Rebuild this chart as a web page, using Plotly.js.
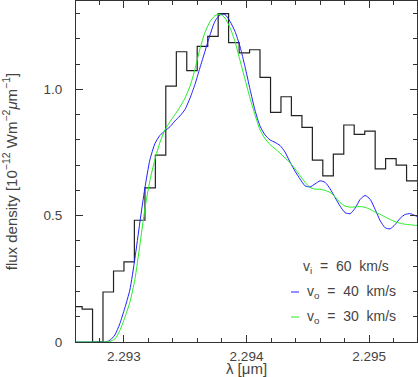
<!DOCTYPE html>
<html>
<head>
<meta charset="utf-8">
<script src="https://cdn.plot.ly/plotly-3.0.1.min.js"></script>
<style>
  html, body { margin: 0; padding: 0; background: #fff; }
  #plot { width: 418px; height: 377px; }
</style>
</head>
<body>
<div id="plot"></div>
<script>
// observed spectrum, binned (bin edges in micron, flux per bin)
var binEdges = [2.29258, 2.29266, 2.292745, 2.29283, 2.292916, 2.293001, 2.293086, 2.293172,
  2.293257, 2.293342, 2.293428, 2.293513, 2.293598, 2.293684, 2.293769, 2.293854, 2.29394,
  2.294025, 2.29411, 2.294196, 2.294281, 2.294366, 2.294452, 2.294537, 2.294622, 2.294708,
  2.294793, 2.294878, 2.294964, 2.295049, 2.295134, 2.29522, 2.295305, 2.29539];
var binFlux = [0.14, 0.13, 0, 0.198, 0.281, 0.317, 0.482, 0.61, 0.74, 1.013, 1.149, 1.074,
  1.17, 1.21, 1.30, 1.185, 1.145, 1.157, 1.048, 0.909, 0.971, 0.896, 0.85, 0.72, 0.658,
  0.744, 0.859, 0.822, 0.835, 0.685, 0.726, 0.70, 0.638];

// model profiles
var modelWave = [2.292608, 2.292804, 2.292845, 2.292886, 2.292927, 2.292967, 2.293008, 2.293049,
  2.29309, 2.293131, 2.293171, 2.293212, 2.293253, 2.293294, 2.293335, 2.293376, 2.293416,
  2.293457, 2.293498, 2.293539, 2.29358, 2.29362, 2.293661, 2.293702, 2.293743, 2.293784,
  2.293824, 2.293865, 2.293906, 2.293947, 2.293988, 2.294029, 2.294069, 2.29411, 2.294151,
  2.294192, 2.294233, 2.294273, 2.294314, 2.294355, 2.294396, 2.294437, 2.294478, 2.294518,
  2.294559, 2.2946, 2.294641, 2.294682, 2.294722, 2.294763, 2.294804, 2.294845, 2.294886,
  2.294927, 2.294967, 2.295008, 2.295049, 2.29509, 2.295131, 2.295171, 2.295212, 2.295253,
  2.295294, 2.295335, 2.295376, 2.295416];
var fluxVo40 = [0, 0, 0, 0.006, 0.028, 0.072, 0.135, 0.206, 0.33, 0.475, 0.608, 0.72, 0.785,
  0.818, 0.836, 0.852, 0.875, 0.895, 0.92, 0.965, 1.02, 1.085, 1.15, 1.215, 1.27, 1.295,
  1.297, 1.27, 1.23, 1.17, 1.09, 1.0, 0.918, 0.855, 0.82, 0.8, 0.79, 0.778, 0.752, 0.712,
  0.676, 0.645, 0.618, 0.614, 0.626, 0.638, 0.632, 0.606, 0.572, 0.538, 0.512, 0.508, 0.53,
  0.565, 0.58, 0.565, 0.525, 0.48, 0.452, 0.448, 0.465, 0.49, 0.505, 0.508, 0.5, 0.493];
var fluxVo30 = [0, 0, 0, 0.002, 0.012, 0.045, 0.097, 0.157, 0.248, 0.385, 0.525, 0.638, 0.722,
  0.79, 0.839, 0.872, 0.9, 0.93, 0.965, 1.012, 1.08, 1.16, 1.225, 1.268, 1.292, 1.298,
  1.283, 1.245, 1.19, 1.115, 1.04, 0.965, 0.9, 0.84, 0.805, 0.782, 0.765, 0.748, 0.728,
  0.71, 0.685, 0.658, 0.632, 0.612, 0.605, 0.605, 0.6, 0.592, 0.575, 0.552, 0.538, 0.534,
  0.535, 0.536, 0.533, 0.525, 0.514, 0.505, 0.495, 0.485, 0.476, 0.47, 0.466, 0.464, 0.462,
  0.461];

var xTickVals = [2.293, 2.294, 2.295];
var xTickText = ['2.293', '2.294', '2.295'];
var yTickVals = [0, 0.5, 1.0];
var yTickText = ['0', '0.5', '1.0'];

var legendText = ['v<sub>i</sub>\u00a0\u00a0=\u00a0\u00a060\u00a0\u00a0km/s',
  'v<sub>o</sub>\u00a0\u00a0=\u00a0\u00a040\u00a0\u00a0km/s',
  'v<sub>o</sub>\u00a0\u00a0=\u00a0\u00a030\u00a0\u00a0km/s'];

var txtColor = '#444';
var frameColor = '#333';
var fnt = {family: 'Liberation Sans, Arial, sans-serif', size: 13.5, color: txtColor};
var titleFnt = {family: 'Liberation Sans, Arial, sans-serif', size: 15, color: txtColor};
var legFnt = {family: 'Liberation Sans, Arial, sans-serif', size: 14, color: txtColor};

// step line through the bins
var stepY = binFlux.concat([binFlux[binFlux.length - 1]]);
var data = [
  {x: binEdges, y: stepY, type: 'scatter', mode: 'lines',
   line: {color: '#222', width: 1.2, shape: 'hv'}, name: 'observed'},
  {x: modelWave, y: fluxVo40, type: 'scatter', mode: 'lines',
   line: {color: '#2020ff', width: 1, shape: 'spline', smoothing: 0.6}, name: 'vo = 40 km/s'},
  {x: modelWave, y: fluxVo30, type: 'scatter', mode: 'lines',
   line: {color: '#22ee22', width: 1, shape: 'spline', smoothing: 0.6}, name: 'vo = 30 km/s'}
];

var axisCommon = {
  showline: true, linecolor: frameColor, linewidth: 1, mirror: 'allticks',
  ticks: 'inside', ticklen: 7, tickcolor: frameColor, tickwidth: 1,
  showgrid: false, zeroline: false, tickfont: fnt, tickmode: 'array'
};

var layout = {
  width: 418, height: 377,
  margin: {l: 76, r: 1, t: 1, b: 35},
  paper_bgcolor: '#fff', plot_bgcolor: '#fff',
  showlegend: false,
  font: fnt,
  xaxis: Object.assign({}, axisCommon, {
    range: [2.29261, 2.29539],
    tickvals: xTickVals, ticktext: xTickText,
    ticklabelstandoff: 2,
    minor: {tickmode: 'linear', tick0: 2.293, dtick: 0.0002, ticks: 'inside', ticklen: 4,
            tickcolor: frameColor, showgrid: false},
    title: {text: 'λ [μm]', font: titleFnt, standoff: 1}
  }),
  yaxis: Object.assign({}, axisCommon, {
    range: [0, 1.35],
    tickvals: yTickVals, ticktext: yTickText,
    ticklabelstandoff: 10,
    minor: {tickmode: 'linear', tick0: 0, dtick: 0.1, ticks: 'inside', ticklen: 4,
            tickcolor: frameColor, showgrid: false},
    title: {text: 'flux density [10<sup>−12</sup> Wm<sup>−2</sup><i>μ</i>m<sup>−1</sup>]',
            font: titleFnt, standoff: 22}
  }),
  annotations: [
    {xref: 'paper', yref: 'paper', x: 0.661, y: 0.22, xanchor: 'left', yanchor: 'middle',
     text: legendText[0], showarrow: false, font: legFnt},
    {xref: 'paper', yref: 'paper', x: 0.6725, y: 0.1466, xanchor: 'left', yanchor: 'middle',
     text: legendText[1], showarrow: false, font: legFnt},
    {xref: 'paper', yref: 'paper', x: 0.6725, y: 0.0733, xanchor: 'left', yanchor: 'middle',
     text: legendText[2], showarrow: false, font: legFnt}
  ],
  shapes: [
    {type: 'line', xref: 'paper', yref: 'paper', x0: 0.6305, x1: 0.654, y0: 0.1466, y1: 0.1466,
     line: {color: '#2020ff', width: 1}},
    {type: 'line', xref: 'paper', yref: 'paper', x0: 0.6305, x1: 0.654, y0: 0.0733, y1: 0.0733,
     line: {color: '#22ee22', width: 1}}
  ]
};

var config = {displayModeBar: false, staticPlot: true};
Plotly.newPlot('plot', data, layout, config);
</script>
</body>
</html>
